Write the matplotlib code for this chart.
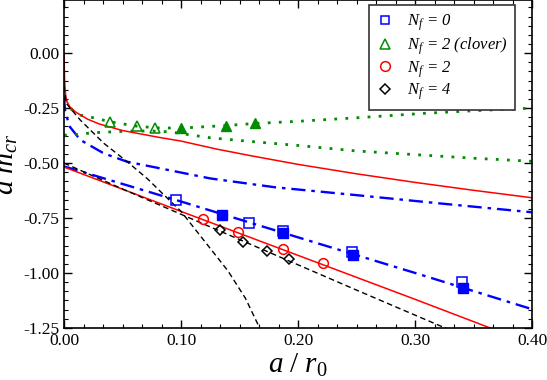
import matplotlib
matplotlib.use("Agg")
import matplotlib.pyplot as plt
from matplotlib.ticker import MultipleLocator, FormatStrFormatter
from matplotlib.font_manager import FontProperties

plt.rcParams['font.family'] = 'Liberation Serif'
plt.rcParams['mathtext.fontset'] = 'custom'
plt.rcParams['mathtext.rm'] = 'Liberation Serif'
plt.rcParams['mathtext.it'] = 'Liberation Serif:italic'
plt.rcParams['axes.unicode_minus'] = False

# ---- data ----
# Nf = 0 (quenched), blue squares
nf0_open_x = [0.096, 0.158, 0.187, 0.246, 0.340]
nf0_open_y = [-0.668, -0.772, -0.810, -0.905, -1.042]
nf0_fill_x = [0.135, 0.187, 0.247, 0.341]
nf0_fill_y = [-0.736, -0.820, -0.920, -1.068]
nf0_fit_x = [0.0, 0.05, 0.10, 0.20, 0.30, 0.40]
nf0_fit_y = [-0.515, -0.595, -0.675, -0.838, -1.000, -1.165]
nf0_curve_x = [0.0, 0.001, 0.005, 0.014, 0.034, 0.054, 0.082, 0.125, 0.18, 0.25, 0.32, 0.40]
nf0_curve_y = [-0.20, -0.267, -0.335, -0.395, -0.456, -0.494, -0.524, -0.57, -0.61, -0.646, -0.683, -0.724]

# Nf = 2 clover, green triangles
clov_open_x = [0.039, 0.062, 0.078]
clov_open_y = [-0.315, -0.332, -0.340]
clov_fill_x = [0.100, 0.138, 0.163]
clov_fill_y = [-0.340, -0.330, -0.320]
clov_up_x = [0.0, 0.002, 0.006, 0.014, 0.028, 0.039, 0.062, 0.079, 0.100, 0.139, 0.163, 0.200, 0.250, 0.307, 0.350, 0.400]
clov_up_y = [-0.16, -0.22, -0.255, -0.282, -0.297, -0.312, -0.332, -0.340, -0.341, -0.329, -0.320, -0.310, -0.294, -0.274, -0.262, -0.250]
clov_lo_x = [0.0, 0.007, 0.025, 0.054, 0.075, 0.090, 0.125, 0.162, 0.200, 0.250, 0.307, 0.350, 0.400]
clov_lo_y = [-0.373, -0.372, -0.362, -0.355, -0.354, -0.358, -0.385, -0.403, -0.420, -0.445, -0.464, -0.478, -0.492]

# Nf = 2, red circles
nf2_x = [0.119, 0.149, 0.1875, 0.221]
nf2_y = [-0.755, -0.815, -0.891, -0.953]
nf2_fit_x = [0.0, 0.1, 0.2, 0.3, 0.364]
nf2_fit_y = [-0.518, -0.720, -0.920, -1.120, -1.250]
nf2_curve_x = [0.0, 0.0005, 0.001, 0.002, 0.005, 0.01, 0.02, 0.03, 0.05, 0.08, 0.10, 0.13, 0.16, 0.20, 0.25, 0.30, 0.35, 0.40]
nf2_curve_y = [0.0, -0.12, -0.17, -0.215, -0.245, -0.268, -0.300, -0.322, -0.352, -0.382, -0.400, -0.436, -0.467, -0.506, -0.549, -0.588, -0.624, -0.658]

# Nf = 4, black diamonds
nf4_x = [0.133, 0.153, 0.173, 0.192]
nf4_y = [-0.803, -0.861, -0.899, -0.938]
nf4_fit_x = [0.0, 0.05, 0.10, 0.15, 0.20, 0.25, 0.30, 0.33]
nf4_fit_y = [-0.500, -0.618, -0.733, -0.848, -0.963, -1.078, -1.192, -1.26]
nf4_curve_x = [0.0, 0.002, 0.014, 0.034, 0.054, 0.071, 0.085, 0.100, 0.120, 0.140, 0.155, 0.168]
nf4_curve_y = [-0.15, -0.229, -0.305, -0.410, -0.494, -0.570, -0.643, -0.720, -0.855, -0.990, -1.115, -1.26]

blue = '#0000ff'
green = '#008c00'
red = '#ff0000'

fig = plt.figure(figsize=(5.47, 3.80), dpi=100)
ax = fig.add_axes([0.117, 0.137, 0.856, 0.862])

# fits / curves
ax.plot(nf0_fit_x, nf0_fit_y, color=blue, ls=(0, (6, 2.5, 1.5, 2.5)), lw=1.7)
ax.plot(nf0_curve_x, nf0_curve_y, color=blue, ls=(0, (6, 2.5, 1.5, 2.5)), lw=1.7)
ax.plot(clov_up_x, clov_up_y, color=green, ls=(0, (1, 3)), lw=2.0)
ax.plot(clov_lo_x, clov_lo_y, color=green, ls=(0, (1, 3)), lw=2.0)
ax.plot(nf2_fit_x, nf2_fit_y, color=red, lw=1.1)
ax.plot(nf2_curve_x, nf2_curve_y, color=red, lw=1.1)
ax.plot(nf4_fit_x, nf4_fit_y, color='black', ls=(0, (4, 2.5)), lw=1.0)
ax.plot(nf4_curve_x, nf4_curve_y, color='black', ls=(0, (4, 2.5)), lw=1.0)

# data points
ax.plot(nf0_fill_x, nf0_fill_y, 's', color=blue, ms=6.5)
ax.plot(nf0_open_x, nf0_open_y, 's', color=blue, mfc='none', mew=1.1, ms=6.5)
ax.plot(clov_fill_x, clov_fill_y, '^', color=green, ms=7)
ax.plot(clov_open_x, clov_open_y, '^', color=green, mfc='none', mew=1.1, ms=7)
ax.plot(nf2_x, nf2_y, 'o', color=red, mfc='none', mew=1.1, ms=7)
ax.plot(nf4_x, nf4_y, 'D', color='black', mfc='none', mew=1.1, ms=5)

# legend entries
h0, = ax.plot([], [], 's', color=blue, mfc='none', mew=1.1, ms=6)
h1, = ax.plot([], [], '^', color=green, mfc='none', mew=1.1, ms=6.5)
h2, = ax.plot([], [], 'o', color=red, mfc='none', mew=1.1, ms=7)
h3, = ax.plot([], [], 'D', color='black', mfc='none', mew=1.1, ms=5)
labels = [r'$N_f$ = 0', r'$N_f$ = 2 (clover)', r'$N_f$ = 2', r'$N_f$ = 4']
leg = ax.legend([h0, h1, h2, h3], labels, loc='upper right',
                bbox_to_anchor=(0.964, 0.985), borderaxespad=0,
                prop=FontProperties(family='Liberation Serif', style='italic', size=12),
                fancybox=False, framealpha=1, edgecolor='#333333',
                handlelength=1.0, handletextpad=0.8, labelspacing=0.12,
                borderpad=0.45)
leg.get_frame().set_linewidth(1.2)

ax.set_xlim(0, 0.40)
ax.set_ylim(-1.25, 0.24)
ax.xaxis.set_major_locator(MultipleLocator(0.1))
ax.xaxis.set_minor_locator(MultipleLocator(0.1 / 6))
ax.yaxis.set_major_locator(MultipleLocator(0.25))
ax.yaxis.set_minor_locator(MultipleLocator(0.25 / 6))
ax.xaxis.set_major_formatter(FormatStrFormatter('%.2f'))
ax.yaxis.set_major_formatter(FormatStrFormatter('%.2f'))
ax.tick_params(which='both', direction='in', top=True, right=True, labelsize=12.5)
ax.tick_params(which='major', length=6, width=1)
ax.tick_params(which='minor', length=3, width=0.8)
for s in ax.spines.values():
    s.set_linewidth(1.2)

ax.set_xlabel(r'$a\ /\ r_0$', fontsize=21, labelpad=2)
ax.set_ylabel(r'$a\ m_{cr}$', fontsize=21)
ax.yaxis.set_label_coords(-0.094, 0.5)

fig.savefig('out.png', dpi=100)
